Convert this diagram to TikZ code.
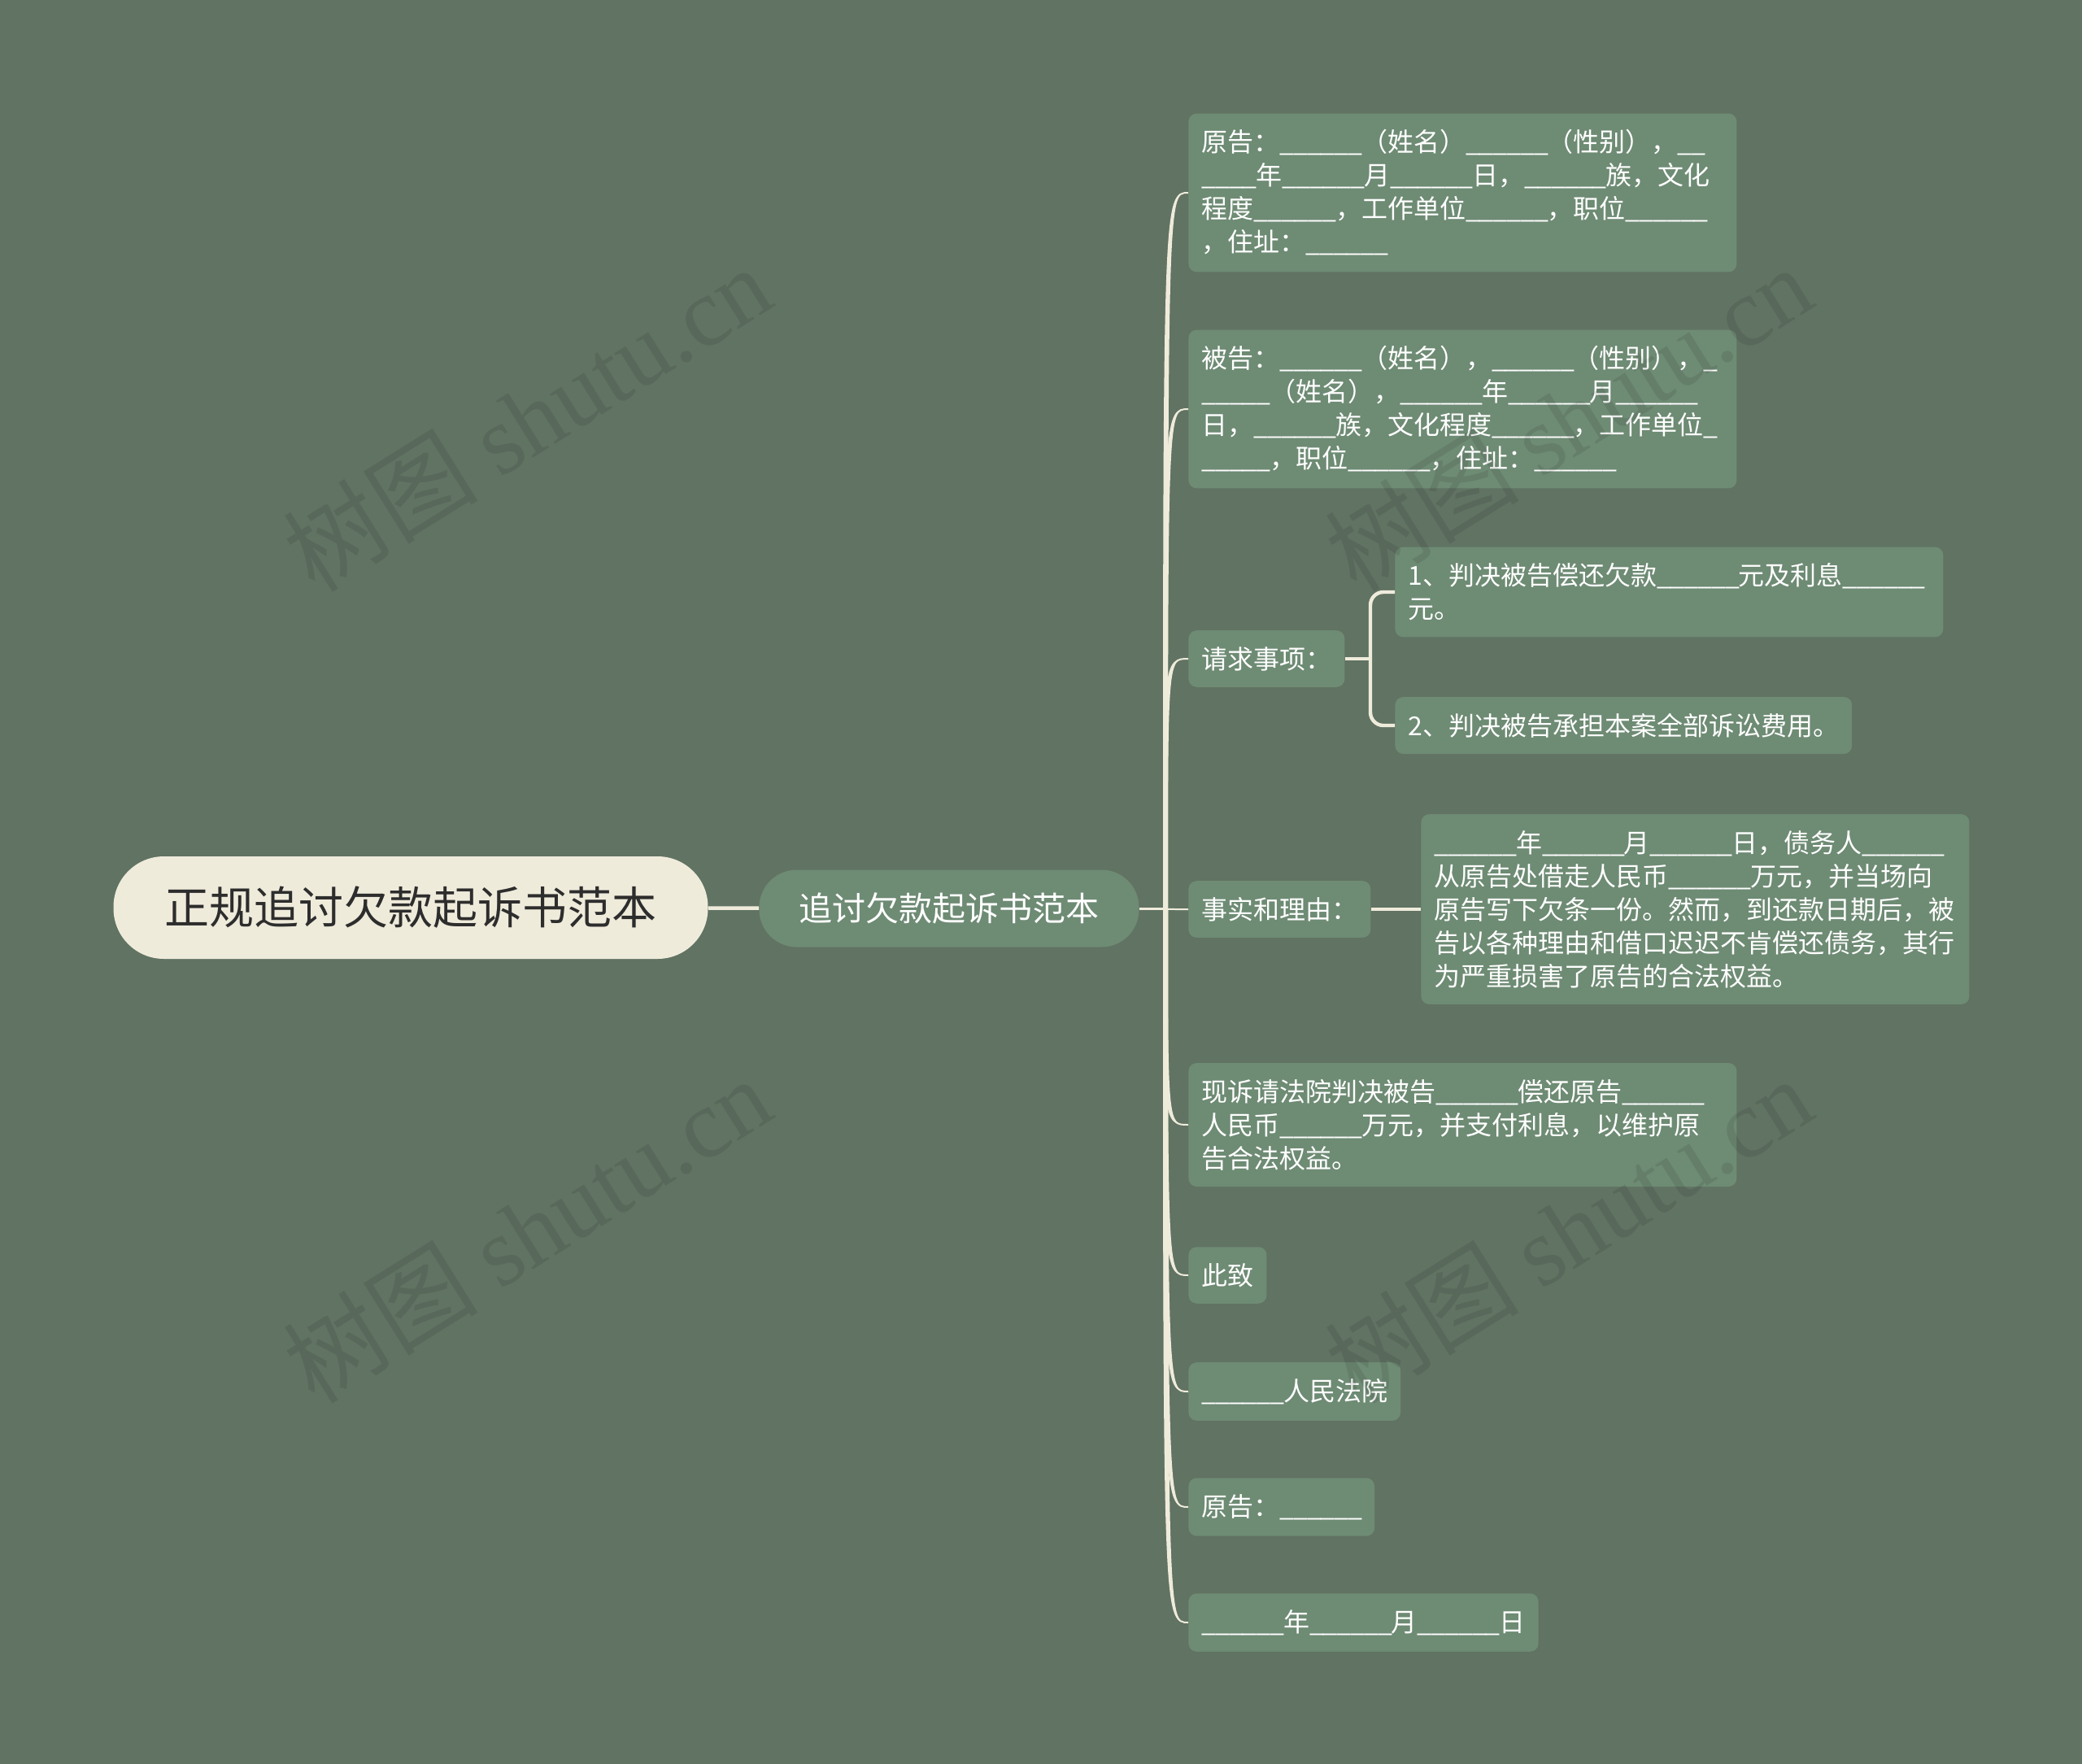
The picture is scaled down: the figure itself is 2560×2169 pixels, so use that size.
\documentclass[tikz,border=0pt]{standalone}
\usepackage{fontspec}
\setmainfont{Noto Sans CJK SC}
\newfontfamily\wmfont{Liberation Serif}
\usetikzlibrary{positioning, calc}
\definecolor{bggreen}{RGB}{97,115,99}
\definecolor{boxgreen}{RGB}{110,139,116}
\definecolor{cream}{RGB}{239,235,219}
\definecolor{darktext}{RGB}{45,45,45}
\newcommand{\us}{\_\kern-.55pt}
\newcommand{\blank}{\us\us\us\us\us\us}

\tikzset{
  rootbox/.style={fill=cream, text=darktext, rounded corners=31pt, minimum width=365.5pt,
    minimum height=63pt, font=\fontsize{27.5}{33}\selectfont},
  topicbox/.style={fill=boxgreen, text=white, rounded corners=23pt, minimum width=233.5pt,
    minimum height=47.5pt, font=\fontsize{20.5}{25}\selectfont},
  leafbox/.style={fill=boxgreen, text=white, rounded corners=5pt, anchor=west, align=left,
    inner xsep=8pt, inner ysep=10pt, font=\fontsize{16}{20.5}\selectfont},
  widebox/.style={leafbox, text width=321pt},
  link/.style={draw=cream, line width=2.2pt},
  thinlink/.style={draw=cream, line width=1pt},
  watermark/.style={text=black, opacity=0.09, rotate=32, font=\fontsize{60}{68}\selectfont}
}

\begin{document}
\begin{tikzpicture}[x=0.5pt, y=-0.5pt]
% canvas
\useasboundingbox (0,0) rectangle (2560,2169);
\fill[bggreen] (0,0) rectangle (2560,2169);

% root and topic
\node[rootbox] (root) at (505,1116) {正规追讨欠款起诉书范本};
\node[topicbox] (topic) at (1167,1117) {追讨欠款起诉书范本};
\coordinate (fork) at (1433,1117);

% children
\node[widebox] (plaintiff) at (1461,237) {原告：\blank{}（姓名）\blank{}（性别），\us\us{}\\
\us\us\us\us{}年\blank{}月\blank{}日，\blank{}族，文化\\
程度\blank{}，工作单位\blank{}，职位\blank{}\\
，住址：\blank{}};
\node[widebox] (defendant) at (1461,503) {被告：\blank{}（姓名），\blank{}（性别），\us{}\\
\us\us\us\us\us{}（姓名），\blank{}年\blank{}月\blank{}\\
日，\blank{}族，文化程度\blank{}，工作单位\us{}\\
\us\us\us\us\us{}，职位\blank{}，住址：\blank{}};
\node[leafbox] (claims) at (1461,810) {请求事项：};
\node[leafbox] (facts) at (1461,1118) {事实和理由：};
\node[widebox] (petition) at (1461,1383) {现诉请法院判决被告\blank{}偿还原告\blank{}\\
人民币\blank{}万元，并支付利息，以维护原\\
告合法权益。};
\node[leafbox] (salute) at (1461,1568) {此致};
\node[leafbox] (court) at (1461,1711) {\blank{}人民法院};
\node[leafbox] (signer) at (1461,1853) {原告：\blank{}};
\node[leafbox] (date) at (1461,1995) {\blank{}年\blank{}月\blank{}日};

% grandchildren
\node[widebox] (claimone) at (1715,728) {1、判决被告偿还欠款\blank{}元及利息\blank{}\\
元。};
\node[leafbox] (claimtwo) at (1715,892) {2、判决被告承担本案全部诉讼费用。};
\node[widebox] (factsdetail) at (1747,1118) {\blank{}年\blank{}月\blank{}日，债务人\blank{}\\
从原告处借走人民币\blank{}万元，并当场向\\
原告写下欠条一份。然而，到还款日期后，被\\
告以各种理由和借口迟迟不肯偿还债务，其行\\
为严重损害了原告的合法权益。};

% connectors
\draw[link] (root) -- (topic);
\draw[thinlink, line width=1.5pt] (topic) -- (fork);
\foreach \n in {plaintiff,defendant,claims,facts,petition,salute,court,signer,date}{
  \fill[cream] ($(fork)+(-3,0)$) .. controls ($(fork |- \n.west)+(-3,0)$) .. (\n.west)
    .. controls ($(fork |- \n.west)+(3,0)$) .. ($(fork)+(3,0)$) -- cycle;
  \draw[thinlink] (fork) .. controls (fork |- \n.west) .. (\n.west);
}
\coordinate (claimfork) at (1685,810);
\draw[link] (claims) -- (claimfork);
\draw[link, rounded corners=8pt] (claimfork) |- (claimone.west);
\draw[link, rounded corners=8pt] (claimfork) |- (claimtwo.west);
\draw[link] (facts) -- (factsdetail);

% watermarks
\foreach \x/\y in {648/514, 1928/514, 648/1512, 1928/1512}
  \node[watermark] at (\x,\y) {树图 {\wmfont shutu.cn}};
\end{tikzpicture}
\end{document}
